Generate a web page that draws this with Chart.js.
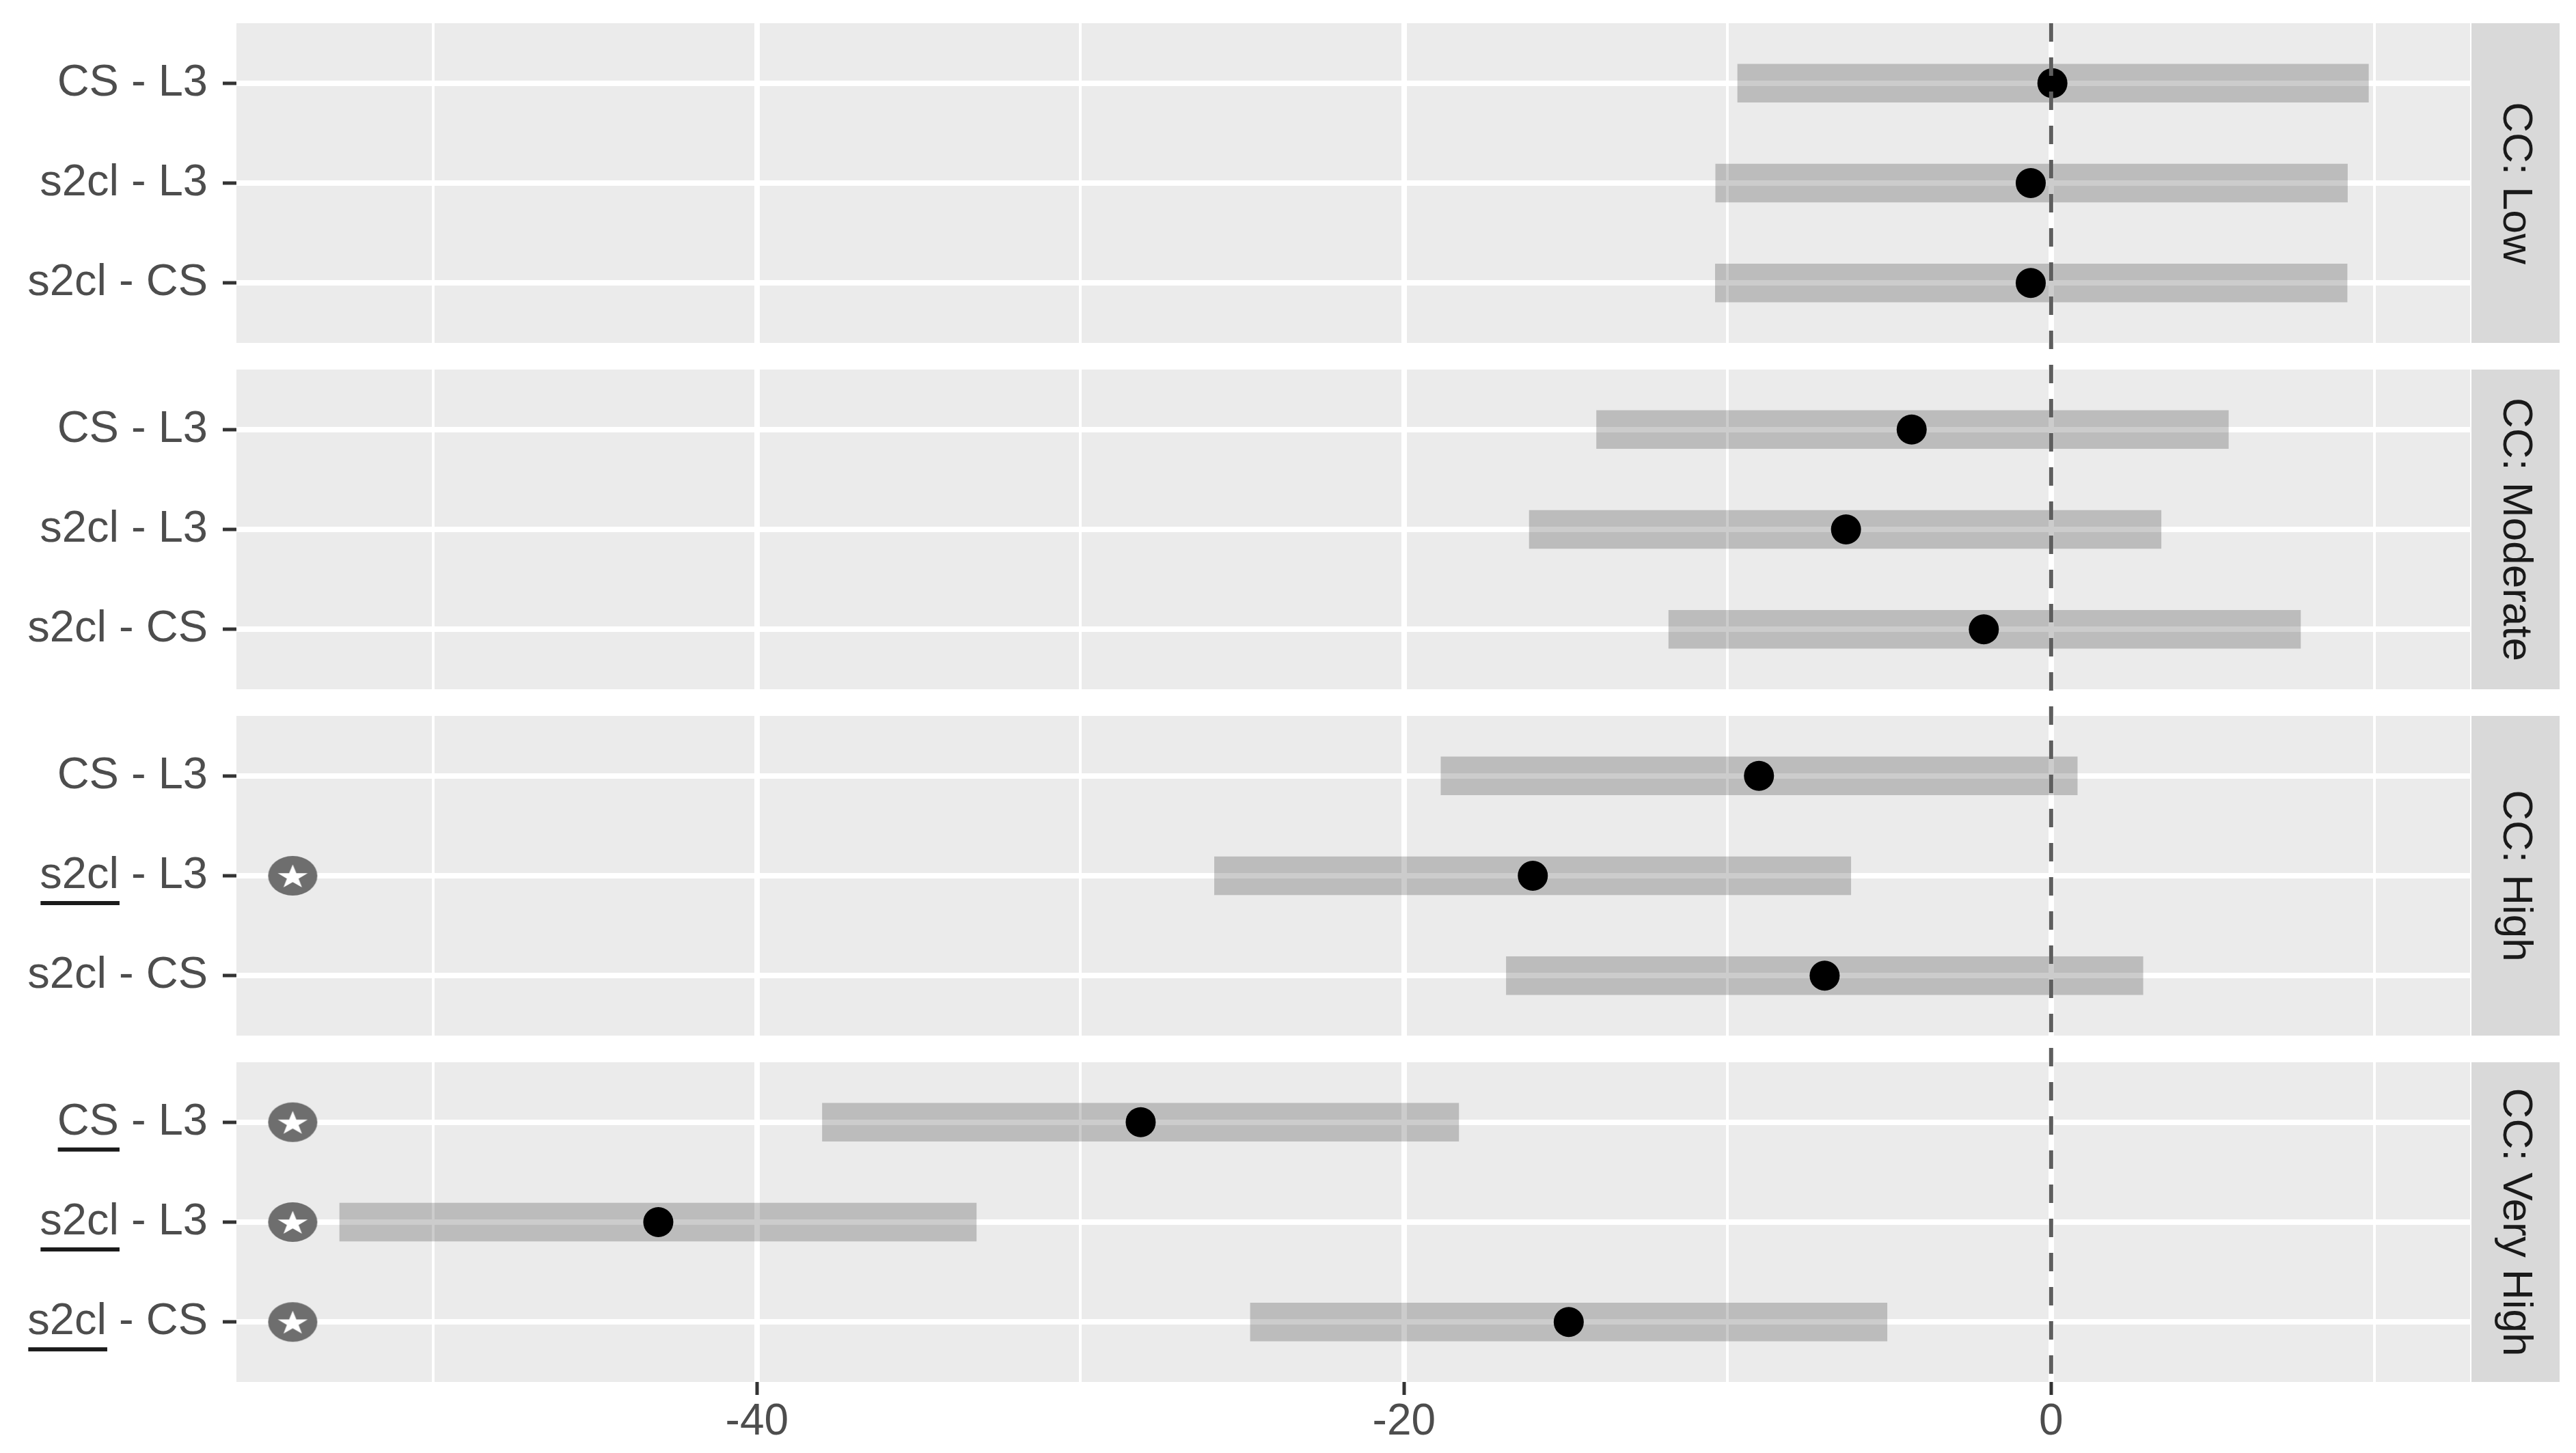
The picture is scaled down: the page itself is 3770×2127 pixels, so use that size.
<!DOCTYPE html>
<html>
<head>
<meta charset="utf-8">
<script src="https://cdn.jsdelivr.net/npm/chart.js@4/dist/chart.umd.min.js"></script>
<style>
  html, body { margin: 0; padding: 0; background: #fff; }
  canvas { display: block; }
</style>
</head>
<body>
<canvas id="chart" width="3770" height="2127"></canvas>
<script>
// facets (top to bottom) and the comparisons inside each facet
const panels = ["CC: Low", "CC: Moderate", "CC: High", "CC: Very High"];
const comparisons = ["CS - L3", "s2cl - L3", "s2cl - CS"];

// point estimates and interval bounds, one row per panel
const estimates = [
    [0.04, -0.63, -0.63],
    [-4.31, -6.34, -2.08],
    [-9.03, -16.02, -7.0],
    [-28.14, -43.05, -14.91]
];
const lower = [
    [-9.69, -10.37, -10.38],
    [-14.05, -16.13, -11.82],
    [-18.86, -25.86, -16.84],
    [-37.98, -52.9, -24.75]
];
const upper = [
    [9.81, 9.16, 9.15],
    [5.48, 3.40, 7.71],
    [0.81, -6.19, 2.84],
    [-18.31, -33.22, -5.07]
];

// star badge rows and the underlined part of their label
const significant = [
    [false, false, false],
    [false, false, false],
    [false, true, false],
    [true, true, true]
];
const underlined = [
    [null, null, null],
    [null, null, null],
    [null, "s2cl", null],
    ["CS", "s2cl", "s2cl"]
];

const xTicks = [-50, -40, -30, -20, -10, 0, 10];
const starX = -54.35;

const FONT = "'Liberation Sans', Arial, sans-serif";
const LABEL_SIZE = 65;
const panelSpan = 3.2 + 4 / 15; // panel height + gap, in row units

const rows = [];
panels.forEach((panel, p) => {
    comparisons.forEach((label, i) => {
        rows.push({ p, i, y: p * panelSpan + i + 1, label });
    });
});

const barData = rows.map(r => ({ x: [lower[r.p][r.i], upper[r.p][r.i]], y: r.y }));
const dotData = rows.map(r => ({ x: estimates[r.p][r.i], y: r.y }));
const starData = rows.filter(r => significant[r.p][r.i]).map(r => ({ x: starX, y: r.y }));

function starBadge() {
    const c = document.createElement("canvas");
    c.width = 74;
    c.height = 60;
    const g = c.getContext("2d");
    g.fillStyle = "#6e6e6e";
    g.beginPath();
    g.ellipse(37, 30, 36, 29, 0, 0, Math.PI * 2);
    g.fill();
    g.fillStyle = "#ffffff";
    g.beginPath();
    for (let k = 0; k < 10; k++) {
        const r = k % 2 ? 9 : 23;
        const a = -Math.PI / 2 + k * Math.PI / 5;
        g.lineTo(37 + r * Math.cos(a), 32 + r * Math.sin(a) * 0.8);
    }
    g.closePath();
    g.fill();
    return c;
}

const panelPx = (scale, p) => ({
    top: scale.getPixelForValue(0.4 + p * panelSpan),
    bottom: scale.getPixelForValue(3.6 + p * panelSpan)
});

const facets = {
    id: "facets",
    beforeDraw(chart) {
        const { ctx, chartArea: a, scales: { y } } = chart;
        ctx.save();
        panels.forEach((name, p) => {
            const { top, bottom } = panelPx(y, p);
            ctx.fillStyle = "#ebebeb";
            ctx.fillRect(a.left, top, a.right - a.left, bottom - top);
            ctx.fillStyle = "#d9d9d9";
            ctx.fillRect(a.right + 2, top, 129, bottom - top);
            ctx.save();
            ctx.translate(a.right + 2 + 64.5, (top + bottom) / 2);
            ctx.rotate(Math.PI / 2);
            ctx.fillStyle = "#1a1a1a";
            ctx.font = "62px " + FONT;
            ctx.textAlign = "center";
            ctx.textBaseline = "middle";
            ctx.fillText(name, 0, 0);
            ctx.restore();
        });
        ctx.restore();
    },
    beforeDatasetsDraw(chart) {
        // white space between the panels
        const { ctx, chartArea: a, scales: { y } } = chart;
        ctx.save();
        ctx.fillStyle = "#ffffff";
        for (let p = 0; p < panels.length - 1; p++) {
            const top = panelPx(y, p).bottom;
            const bottom = panelPx(y, p + 1).top;
            ctx.fillRect(a.left, top, a.right - a.left, bottom - top);
        }
        ctx.restore();
    },
    afterDatasetsDraw(chart) {
        const { ctx, chartArea: a, scales: { x, y } } = chart;
        ctx.save();
        // dashed reference line at zero
        const x0 = x.getPixelForValue(0);
        ctx.strokeStyle = "#5e5e5e";
        ctx.lineWidth = 6;
        ctx.setLineDash([27, 23]);
        ctx.beginPath();
        ctx.moveTo(x0, a.top);
        ctx.lineTo(x0, a.bottom);
        ctx.stroke();
        ctx.setLineDash([]);

        // underline part of the significant labels
        ctx.font = LABEL_SIZE + "px " + FONT;
        ctx.fillStyle = "#1a1a1a";
        const right = y.right - 20 - 22;
        rows.forEach(r => {
            const part = underlined[r.p][r.i];
            if (!part) return;
            const left = right - ctx.measureText(r.label).width;
            const w = ctx.measureText(part).width;
            const py = y.getPixelForValue(r.y);
            ctx.fillRect(left + 1, py + 37, w, 6);
        });
        ctx.restore();
    }
};

new Chart(document.getElementById("chart"), {
    type: "bar",
    data: {
        datasets: [
            {
                type: "bar",
                label: "interval",
                data: barData,
                backgroundColor: "rgba(0,0,0,0.2)",
                borderWidth: 0,
                barThickness: 56,
                order: 3
            },
            {
                type: "scatter",
                label: "estimate",
                data: dotData,
                pointRadius: 22,
                pointHoverRadius: 22,
                backgroundColor: "#000000",
                borderWidth: 0,
                order: 2
            },
            {
                type: "scatter",
                label: "significant",
                data: starData,
                pointStyle: starBadge(),
                order: 1
            }
        ]
    },
    options: {
        responsive: false,
        animation: false,
        indexAxis: "y",
        layout: { padding: { top: 34, right: 155, left: 0, bottom: 0 } },
        plugins: {
            legend: { display: false },
            tooltip: { enabled: false }
        },
        scales: {
            x: {
                type: "linear",
                offset: false,
                min: -56.09,
                max: 12.95,
                afterBuildTicks: s => { s.ticks = xTicks.map(v => ({ value: v })); },
                afterFit: s => {
                    s.height = 104;
                    s.paddingLeft = 0;
                    s.paddingRight = 0;
                },
                border: { display: false },
                grid: {
                    offset: false,
                    color: "#ffffff",
                    lineWidth: c => (c.tick && c.tick.value % 20 === 0 ? 8 : 4),
                    drawTicks: true,
                    tickLength: 19,
                    tickWidth: 5,
                    tickColor: c => (c.tick && c.tick.value % 20 === 0 ? "#333333" : "rgba(0,0,0,0)")
                },
                ticks: {
                    autoSkip: false,
                    maxRotation: 0,
                    padding: 2,
                    color: "#4d4d4d",
                    font: { family: FONT, size: 64 },
                    callback: v => (v % 20 === 0 ? String(v) : "")
                }
            },
            y: {
                type: "linear",
                offset: false,
                reverse: true,
                min: 0.4,
                max: 3 * panelSpan + 3.6,
                afterBuildTicks: s => { s.ticks = rows.map(r => ({ value: r.y })); },
                afterFit: s => {
                    s.width = 346;
                    s.paddingTop = 0;
                    s.paddingBottom = 0;
                },
                border: { display: false },
                grid: {
                    offset: false,
                    color: "#ffffff",
                    lineWidth: 8,
                    drawTicks: true,
                    tickLength: 20,
                    tickWidth: 5,
                    tickColor: "#333333"
                },
                ticks: {
                    autoSkip: false,
                    padding: 22,
                    color: "#4d4d4d",
                    font: { family: FONT, size: LABEL_SIZE },
                    callback: (v, i) => rows[i].label
                }
            }
        }
    },
    plugins: [facets]
});
</script>
</body>
</html>
